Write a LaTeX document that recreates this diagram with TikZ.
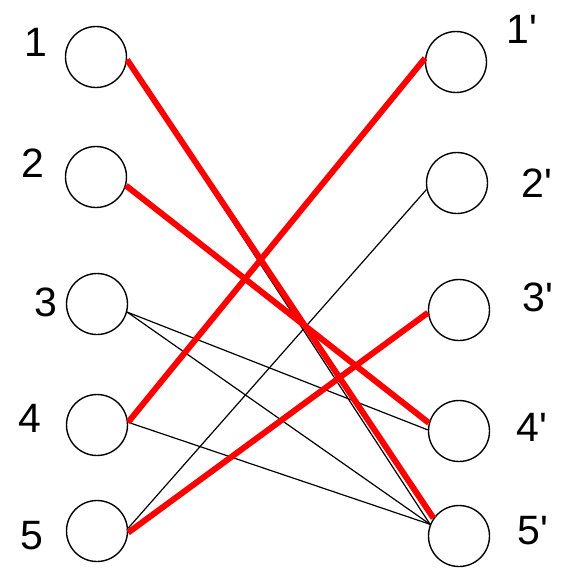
\documentclass[tikz,border=0pt]{standalone}
\usepackage{fontspec}
\newfontfamily\labfont{Liberation Sans}
\begin{document}
\begin{tikzpicture}[x=1pt,y=-1pt,
  vtx/.style={draw=black,circle,line width=1.4pt,minimum size=61pt,inner sep=0pt},
  lab/.style={font=\labfont\fontsize{41}{41}\selectfont,inner sep=0pt,anchor=center},
  redge/.style={draw=red,line width=6pt},
  bedge/.style={draw=black,line width=1.2pt}]
\useasboundingbox (0,0) rectangle (560,568);
\fill[white] (0,0) rectangle (560,568);
% left vertices
\node[vtx] (L1) at (96,57) {};
\node[vtx] (L2) at (96,177) {};
\node[vtx] (L3) at (97,304) {};
\node[vtx] (L4) at (97,425) {};
\node[vtx] (L5) at (97,531) {};
% right vertices
\node[vtx] (R1) at (456,62) {};
\node[vtx] (R2) at (457,183) {};
\node[vtx] (R3) at (459,310) {};
\node[vtx] (R4) at (459,431) {};
\node[vtx] (R5) at (459,536) {};
% labels
\node[lab] (l1) at (36,42) {1};
\node[lab] (l2) at (33,163) {2};
\node[lab] (l3) at (46,302) {3};
\node[lab] (l4) at (30,418) {4};
\node[lab] (l5) at (32,536) {5};
\node[lab] (r1) at (522,29) {1\textquotesingle};
\node[lab] (r2) at (537,183) {2\textquotesingle};
\node[lab] (r3) at (538,297) {3\textquotesingle};
\node[lab] (r4) at (532,427) {4\textquotesingle};
\node[lab] (r5) at (533,531) {5\textquotesingle};
% thin black edges
\draw[bedge] (L1.-5) -- (R5.158);
\draw[bedge] (L5.5) -- (R2.192);
\draw[bedge] (L3.-15) -- (R4.178);
\draw[bedge] (L3.-15) -- (R5.158);
\draw[bedge] (L4.5) -- (R5.158);
% red edges
\draw[redge] (L1.-5) -- (R5.145);
\draw[redge] (L2.-16) -- (R4.165);
\draw[redge] (L4.5) -- (R1.173);
\draw[redge] (L5.-3) -- (R3.185);
\end{tikzpicture}
\end{document}
